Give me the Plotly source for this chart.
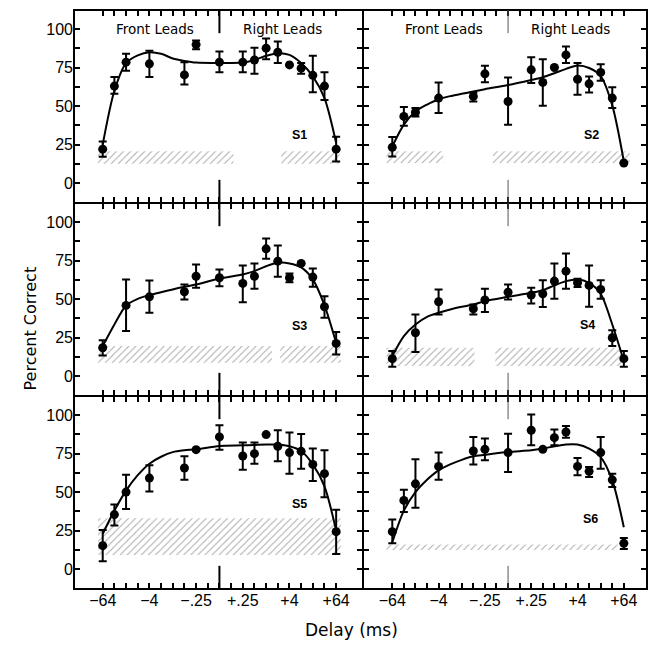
import plotly.graph_objects as go

# ---------------- data ----------------
# ordinal delay axis (ms): one step per doubling
delay_categories = ["\u221264", "\u221232", "\u221216", "\u22128", "\u22124", "\u22122", "\u22121",
                    "\u2212.5", "\u2212.25", "\u2212.125", "0", "+.125", "+.25", "+.5", "+1",
                    "+2", "+4", "+8", "+16", "+32", "+64"]
labelled_ticks = ["\u221264", "\u22124", "\u2212.25", "+.25", "+4", "+64"]

delays_16 = ["\u221264", "\u221232", "\u221216", "\u22124", "\u2212.5", "\u2212.25", "0", "+.25",
             "+.5", "+1", "+2", "+4", "+8", "+16", "+32", "+64"]
delays_15 = ["\u221264", "\u221216", "\u22124", "\u2212.5", "\u2212.25", "0", "+.25",
             "+.5", "+1", "+2", "+4", "+8", "+16", "+32", "+64"]

subjects = ["S1", "S2", "S3", "S4", "S5", "S6"]

s1_delay = delays_16
s1_pc = [22, 63, 78.6, 77.5, 70.3, 90, 78.6, 78.6, 80, 87.7, 85, 76.8, 74.7, 70, 63, 22]
s1_hi = [27, 69, 84, 86, 78.6, 92.6, 85.5, 85.5, 88, 94, 92, 76.8, 78, 82.7, 72, 30]
s1_lo = [17, 58, 73, 69, 64, 87, 72, 72, 71, 80.5, 78, 76.8, 71, 59, 54, 14]

s2_delay = delays_16
s2_pc = [23.2, 43.3, 46, 55.2, 56.3, 71, 53, 73.6, 65.4, 75.1, 83.3, 67.5, 64.5, 71.9, 55.2, 13]
s2_hi = [29.9, 49.4, 48.7, 65.4, 58.9, 76.2, 68.6, 81.8, 80.5, 75.1, 88.7, 78, 69.3, 77.3, 62.3, 13]
s2_lo = [17.3, 37.2, 43.3, 45.5, 53, 65.6, 37.9, 65, 50.2, 75.1, 78, 57.4, 58.9, 66.5, 48.7, 13]

s3_delay = delays_15
s3_pc = [18.4, 45.9, 51.5, 54.8, 64.9, 63.9, 60.2, 64.9, 82.7, 74.7, 63.9, 73.2, 64.3, 45, 21.2]
s3_hi = [23.2, 62.8, 62.1, 59.5, 72.5, 69.3, 71.9, 73.2, 89.4, 84.8, 66.7, 73.2, 69.9, 51.9, 28.6]
s3_lo = [13.4, 29.2, 41.1, 49.8, 57.4, 58.4, 48, 56.7, 76.2, 64.5, 61, 73.2, 58, 37.9, 14]

s4_delay = delays_15
s4_pc = [11.3, 28.1, 48.3, 43.7, 49.4, 54.5, 52.6, 53.5, 61.7, 68.2, 60.6, 58.9, 56.3, 24.9, 11.3]
s4_hi = [16.2, 40, 56.3, 46.5, 56.7, 59.5, 57.4, 62.3, 73.2, 79.7, 63.2, 71.9, 62.3, 29.7, 16.2]
s4_lo = [6, 15.6, 40, 40, 41.6, 49.8, 47.2, 44.8, 50.2, 56.7, 57.8, 45, 50.2, 19.5, 6]

s5_delay = delays_16
s5_pc = [15.2, 35.4, 50, 59.1, 65.7, 77.6, 85.9, 73.5, 75, 87.4, 79.8, 75.7, 76.5, 68, 62, 24.3]
s5_hi = [25.4, 42, 61.3, 67.4, 73.3, 77.6, 93.5, 82.2, 82.2, 87.4, 90.2, 88.7, 87.8, 78.3, 77.2, 38.5]
s5_lo = [5, 28.3, 39.1, 50.4, 58, 77.6, 77.6, 64.6, 68.5, 87.4, 70, 62, 65.2, 57.2, 46.7, 9.8]

s6_delay = delays_16
s6_pc = [24.3, 44.6, 55.4, 66.7, 76.7, 77.8, 75.7, 90.2, 77.8, 85.4, 89.1, 66.7, 63.5, 75.7, 58, 16.7]
s6_hi = [32.2, 51.5, 71.3, 75.7, 85.9, 84.8, 88, 100.4, 77.8, 90.7, 93, 72.2, 66.3, 85.9, 62, 20.2]
s6_lo = [16.7, 37, 39.8, 58, 68, 70.7, 63, 80.4, 77.8, 80.4, 85.4, 60.9, 59.8, 65.2, 53.3, 13]

# fitted curves, read at delay steps
fit_delay = ["\u221264", "\u221232", "\u221216", "\u22128", "\u22124", "\u22122", "\u22121", "\u2212.5",
             "\u2212.25", "0", "+.25", "+.5", "+1", "+2", "+4", "+8", "+16", "+32", "+64"]
s1_fit = [25, 60, 78, 83, 85, 84, 81, 79.4, 78.3, 78, 78.3, 80, 82.7, 84.4, 83.3, 78, 69.3, 55.2, 26]
s2_fit = [23.8, 38, 46.5, 51, 54.5, 56.5, 58, 59.5, 61, 63.7, 67, 68.8, 71.4, 74.2, 76.4, 74.8, 69.5, 50.5, 14]
s3_fit = [19.5, 33.5, 45.9, 50.2, 52.6, 54.5, 56.3, 58, 59.5, 63.4, 66, 68.2, 71.4, 73.6, 73.2, 70.6, 62.8, 46, 21.6]
s4_fit = [13, 26, 33.5, 38.5, 41.1, 43.3, 45, 46.5, 48.7, 51.5, 54.1, 55.8, 58.9, 61.7, 62.8, 60.6, 53.5, 33.5, 9.7]
s5_fit = [22.8, 38, 51, 61, 68.5, 73, 76, 77.2, 77.8, 80, 80.4, 80.7, 80.9, 80.9, 79.8, 76.7, 68, 53.7, 25]
s6_fit = [17.4, 38, 50, 58, 64.1, 68, 71, 73.3, 74.3, 76.1, 77.2, 78.3, 79.8, 81, 81, 78.3, 72.8, 57.6, 27.2]

# chance bands (percent correct low/high) and their horizontal extent in delay steps
band_low = [12.6, 13.0, 8.7, 6.5, 9.1, 12.4]
band_high = [20.6, 20.6, 19.5, 18.4, 33.0, 15.9]
band_extent = [[(-0.4, 11.2), (15.3, 20.3)],
               [(-0.5, 4.4), (8.7, 20.5)],
               [(-0.4, 14.5), (15.2, 20.4)],
               [(-0.5, 7.1), (8.9, 19.8)],
               [(-0.4, 20.4)],
               [(-0.5, 19.5)]]

label_pos = [(16.9, 31.4), (17.2, 31.4), (16.9, 32.5), (16.9, 32.9), (16.9, 42.4), (17.1, 32.6)]

y_ticks = [0, 12.5, 25, 37.5, 50, 62.5, 75, 87.5, 100]
y_ticktext = ["0", "", "25", "", "50", "", "75", "", "100"]

# ---------------- figure ----------------
W, H = 649, 650
def px_x(v): return v / W
def px_y(v): return 1 - v / H

col_dom = [[px_x(74), px_x(363)], [px_x(363), px_x(647)]]
col_rng = [[-2.46, 22.3], [-2.53, 22.0]]
row_dom = [[px_y(203), px_y(10)], [px_y(396), px_y(203)], [px_y(589), px_y(396)]]
y_rng = [-13, 112.5]

def pos(lbl):
    return delay_categories.index(lbl)

points = [(s1_delay, s1_pc, s1_hi, s1_lo), (s2_delay, s2_pc, s2_hi, s2_lo),
          (s3_delay, s3_pc, s3_hi, s3_lo), (s4_delay, s4_pc, s4_hi, s4_lo),
          (s5_delay, s5_pc, s5_hi, s5_lo), (s6_delay, s6_pc, s6_hi, s6_lo)]
fits = [s1_fit, s2_fit, s3_fit, s4_fit, s5_fit, s6_fit]

fig = go.Figure()
layout = {}
annotations = []
shapes = []

tickfont = dict(family="Liberation Sans, Arial, sans-serif", size=16, color="black")

for k, name in enumerate(subjects):
    r, c = divmod(k, 2)
    n = k + 1
    xs = "x" if n == 1 else f"x{n}"
    ys = "y" if n == 1 else f"y{n}"
    xkey = "xaxis" if n == 1 else f"xaxis{n}"
    ykey = "yaxis" if n == 1 else f"yaxis{n}"

    layout[xkey] = dict(
        domain=col_dom[c], range=col_rng[c], anchor=ys,
        tickmode="array", tickvals=list(range(len(delay_categories))),
        ticktext=[t if t in labelled_ticks else "" for t in delay_categories],
        showticklabels=(r == 2), ticks="inside", ticklen=6, tickwidth=1.5, tickcolor="black",
        showline=False, mirror="ticks",
        showgrid=False, zeroline=False, tickfont=tickfont, fixedrange=True,
    )
    layout[ykey] = dict(
        domain=row_dom[r], range=y_rng, anchor=xs,
        tickmode="array", tickvals=y_ticks, ticktext=y_ticktext,
        showticklabels=(c == 0), ticks="inside", ticklen=6, tickwidth=1.5, tickcolor="black",
        showline=False, mirror="ticks",
        showgrid=False, zeroline=False, tickfont=tickfont, fixedrange=True,
    )

    # panel frame
    shapes.append(dict(type="rect", xref=f"{xs} domain", yref=f"{ys} domain", x0=0, x1=1, y0=0, y1=1,
                       line=dict(color="black", width=2)))

    # chance band (hatched)
    for (a, b) in band_extent[k]:
        fig.add_trace(go.Scatter(
            x=[a, b, b, a, a], y=[band_low[k], band_low[k], band_high[k], band_high[k], band_low[k]],
            xaxis=xs, yaxis=ys, mode="lines", line=dict(width=0, color="rgba(0,0,0,0)"),
            fill="toself", fillcolor="white",
            fillpattern=dict(shape="/", fgcolor="#555555", bgcolor="white", size=5, solidity=0.2),
            hoverinfo="skip", showlegend=False))

    # fitted curve
    fig.add_trace(go.Scatter(
        x=[pos(d) for d in fit_delay], y=fits[k], xaxis=xs, yaxis=ys, mode="lines",
        line=dict(color="black", width=2, shape="spline", smoothing=0.8),
        showlegend=False, hoverinfo="skip"))

    # data points with error bars
    d, pc, hi, lo = points[k]
    fig.add_trace(go.Scatter(
        x=[pos(v) for v in d], y=pc, xaxis=xs, yaxis=ys, mode="markers",
        marker=dict(color="black", size=9),
        error_y=dict(type="data", symmetric=False,
                     array=[h - p for h, p in zip(hi, pc)],
                     arrayminus=[p - l for p, l in zip(pc, lo)],
                     color="black", thickness=2, width=4),
        showlegend=False))

    # subject label
    annotations.append(dict(x=label_pos[k][0], y=label_pos[k][1], xref=xs, yref=ys, text=f"<b>{name}</b>",
                            showarrow=False, font=dict(family="Liberation Sans, Arial, sans-serif", size=12.5, color="black")))

    # long centre ticks (zero delay)
    centre = pos("0")
    lc = "black" if c == 0 else "#555555"
    lw = 2 if c == 0 else 1
    for (y0, y1) in [(0, 0.12), (0.88, 1)]:
        shapes.append(dict(type="line", xref=xs, yref=f"{ys} domain", x0=centre, x1=centre, y0=y0, y1=y1,
                           line=dict(color=lc, width=lw)))

    if r == 0:
        for txt, xp in [("Front Leads", 4.5), ("Right Leads", 15.4)]:
            annotations.append(dict(x=xp, y=100, xref=xs, yref=ys, text=txt, showarrow=False,
                                    font=dict(family="DejaVu Sans, sans-serif", size=13.5, color="black")))

annotations.append(dict(x=px_x(18), y=px_y(329), xref="paper", yref="paper", text="Percent Correct",
                        textangle=-90, showarrow=False,
                        font=dict(family="DejaVu Sans, sans-serif", size=16, color="black")))
annotations.append(dict(x=px_x(351), y=px_y(642), xref="paper", yref="paper", text="Delay (ms)",
                        showarrow=False,
                        font=dict(family="DejaVu Sans, sans-serif", size=17, color="black")))

fig.update_layout(
    width=W, height=H, margin=dict(l=0, r=0, t=0, b=0),
    paper_bgcolor="white", plot_bgcolor="rgba(0,0,0,0)",
    showlegend=False, annotations=annotations, shapes=shapes, **layout)

fig.write_html("out.html")
